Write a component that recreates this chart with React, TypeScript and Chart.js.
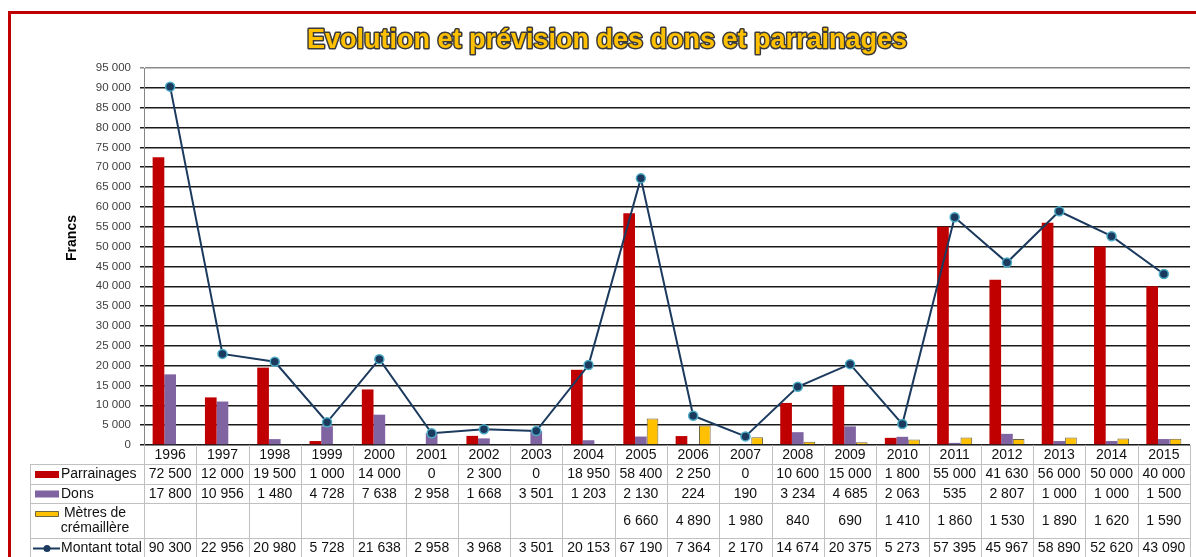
import { useEffect, useRef } from 'react';
import { Chart, registerables } from 'chart.js';

Chart.register(...registerables);

const W = 1196;
const H = 557;
const FONT = '"Liberation Sans", Arial, sans-serif';

const chartTitle = 'Evolution et prévision des dons et parrainages';
const yTitle = 'Francs';

const years = ['1996', '1997', '1998', '1999', '2000', '2001', '2002', '2003', '2004', '2005', '2006', '2007', '2008', '2009', '2010', '2011', '2012', '2013', '2014', '2015'];
const parrainages = [72500, 12000, 19500, 1000, 14000, 0, 2300, 0, 18950, 58400, 2250, 0, 10600, 15000, 1800, 55000, 41630, 56000, 50000, 40000];
const dons = [17800, 10956, 1480, 4728, 7638, 2958, 1668, 3501, 1203, 2130, 224, 190, 3234, 4685, 2063, 535, 2807, 1000, 1000, 1500];
const metres: (number | null)[] = [null, null, null, null, null, null, null, null, null, 6660, 4890, 1980, 840, 690, 1410, 1860, 1530, 1890, 1620, 1590];
const montant = [90300, 22956, 20980, 5728, 21638, 2958, 3968, 3501, 20153, 67190, 7364, 2170, 14674, 20375, 5273, 57395, 45967, 58890, 52620, 43090];

const yMin = 0;
const yMax = 95000;
const yStep = 5000;

const seriesNames = ['Parrainages', 'Dons', 'Mètres de crémaillère', 'Montant total'];
const RED = '#C00000';
const PURPLE = '#8064A2';
const YELLOW = '#FFC000';
const YELLOW_BORDER = '#6f6540';
const NAVY = '#1B3A5E';
const POINT_BORDER = '#4BACC6';

const fmt = (v: number | null | undefined) =>
  v === null || v === undefined ? '' : String(v).replace(/\B(?=(\d{3})+(?!\d))/g, ' ');

const decorPlugin = {
  id: 'decor',
  afterDraw(chart: any) {
    const ctx: CanvasRenderingContext2D = chart.ctx;
    const area = chart.chartArea;
    const xs = chart.scales.x;
    ctx.save();

    // red frame
    ctx.strokeStyle = RED;
    ctx.lineWidth = 3;
    ctx.strokeRect(9.5, 12.5, W + 20, H + 20);

    // title
    ctx.font = `bold 27px ${FONT}`;
    ctx.textAlign = 'center';
    ctx.textBaseline = 'alphabetic';
    ctx.lineJoin = 'round';
    ctx.strokeStyle = '#3a3a3a';
    ctx.lineWidth = 3;
    ctx.strokeText(chartTitle, 607, 48);
    ctx.fillStyle = YELLOW;
    ctx.fillText(chartTitle, 607, 48);

    // y title
    ctx.save();
    ctx.translate(72, 238);
    ctx.rotate(-Math.PI / 2);
    ctx.font = `bold 14px ${FONT}`;
    ctx.fillStyle = '#000';
    ctx.textAlign = 'center';
    ctx.textBaseline = 'middle';
    ctx.fillText(yTitle, 0, 0);
    ctx.restore();

    // x axis line
    ctx.strokeStyle = '#868686';
    ctx.lineWidth = 1;
    ctx.beginPath();
    ctx.moveTo(area.left, Math.round(area.bottom) + 0.5);
    ctx.lineTo(area.right, Math.round(area.bottom) + 0.5);
    ctx.stroke();

    // data table
    const rowLines = [464, 484, 503, 538];
    const bottom = H + 5;
    const legLeft = 30;
    const n = years.length;
    const cw = (area.right - area.left) / n;
    ctx.strokeStyle = '#c0c0c0';
    ctx.lineWidth = 1;
    ctx.beginPath();
    for (const y of rowLines) {
      ctx.moveTo(legLeft, y + 0.5);
      ctx.lineTo(area.right, y + 0.5);
    }
    ctx.moveTo(legLeft + 0.5, rowLines[0]);
    ctx.lineTo(legLeft + 0.5, bottom);
    for (let i = 0; i <= n; i++) {
      const x = Math.round(xs.getPixelForValue(i) - cw / 2) + 0.5;
      ctx.moveTo(x, area.bottom);
      ctx.lineTo(x, bottom);
    }
    ctx.stroke();

    ctx.font = `14px ${FONT}`;
    ctx.fillStyle = '#111';
    ctx.textAlign = 'center';
    ctx.textBaseline = 'middle';
    const rowsY = [455, 474.5, 494, 521, 548.5];
    for (let i = 0; i < n; i++) {
      const cx = xs.getPixelForValue(i);
      ctx.fillText(years[i], cx, rowsY[0]);
      ctx.fillText(fmt(parrainages[i]), cx, rowsY[1]);
      ctx.fillText(fmt(dons[i]), cx, rowsY[2]);
      ctx.fillText(fmt(metres[i]), cx, rowsY[3]);
      ctx.fillText(fmt(montant[i]), cx, rowsY[4]);
    }

    // legend keys
    ctx.textAlign = 'left';
    ctx.fillStyle = RED;
    ctx.fillRect(35, rowsY[1] - 3.5, 24, 7);
    ctx.fillStyle = PURPLE;
    ctx.fillRect(35, rowsY[2] - 3.5, 24, 7);
    ctx.fillStyle = YELLOW;
    ctx.fillRect(35, 511, 24, 6);
    ctx.strokeStyle = YELLOW_BORDER;
    ctx.strokeRect(35.5, 511.5, 23, 5);
    ctx.strokeStyle = NAVY;
    ctx.lineWidth = 2;
    ctx.beginPath();
    ctx.moveTo(33, rowsY[4]);
    ctx.lineTo(60, rowsY[4]);
    ctx.stroke();
    ctx.fillStyle = NAVY;
    ctx.beginPath();
    ctx.arc(47, rowsY[4], 3.5, 0, Math.PI * 2);
    ctx.fill();

    ctx.fillStyle = '#111';
    ctx.fillText(seriesNames[0], 61, rowsY[1]);
    ctx.fillText(seriesNames[1], 61, rowsY[2]);
    ctx.fillText(seriesNames[3], 61, rowsY[4]);
    ctx.textAlign = 'center';
    const words = seriesNames[2].split(' ');
    ctx.fillText(words.slice(0, 2).join(' '), 95, 513);
    ctx.fillText(words.slice(2).join(' '), 95, 528);

    ctx.restore();
  },
};

export default function App() {
  const ref = useRef<HTMLCanvasElement>(null);
  useEffect(() => {
    const chart = new Chart(ref.current as HTMLCanvasElement, {
      type: 'bar',
      data: {
        labels: years,
        datasets: [
          {
            type: 'line',
            label: seriesNames[3],
            data: montant,
            borderColor: NAVY,
            borderWidth: 2,
            backgroundColor: NAVY,
            pointBackgroundColor: NAVY,
            pointBorderColor: POINT_BORDER,
            pointBorderWidth: 1.5,
            pointRadius: 4.5,
            tension: 0,
            order: 0,
          } as any,
          {
            type: 'bar',
            label: seriesNames[0],
            data: parrainages,
            backgroundColor: RED,
            order: 1,
          },
          {
            type: 'bar',
            label: seriesNames[1],
            data: dons,
            backgroundColor: PURPLE,
            order: 1,
          },
          {
            type: 'bar',
            label: seriesNames[2],
            data: metres,
            backgroundColor: YELLOW,
            borderColor: YELLOW_BORDER,
            borderWidth: 1,
            order: 1,
          },
        ],
      },
      options: {
        responsive: false,
        animation: false,
        events: [],
        datasets: { bar: { categoryPercentage: 0.67, barPercentage: 1 } },
        layout: { padding: { left: 0, right: 5, top: 68, bottom: 112 } },
        plugins: { legend: { display: false }, tooltip: { enabled: false }, title: { display: false } },
        scales: {
          x: { display: false, offset: true, grid: { offset: true } },
          y: {
            min: yMin,
            max: yMax,
            ticks: {
              stepSize: yStep,
              callback: (v: any) => fmt(Number(v)),
              font: { family: FONT, size: 11.5 },
              color: '#404040',
              padding: 9,
            },
            grid: {
              color: (c: any) => (c.tick && c.tick.value === yMax ? '#8a8a8a' : '#1a1a1a'),
              lineWidth: 1.5,
              tickLength: 4,
            },
            border: { display: true, color: '#868686', width: 1 },
            afterFit: (s: any) => {
              s.width = 144;
            },
          },
        },
      },
      plugins: [decorPlugin],
    });
    return () => chart.destroy();
  }, []);
  return (
    <div style={{ position: 'fixed', left: 0, top: 0, width: W, height: H, background: '#fff' }}>
      <canvas ref={ref} width={W} height={H} style={{ display: 'block' }} />
    </div>
  );
}
